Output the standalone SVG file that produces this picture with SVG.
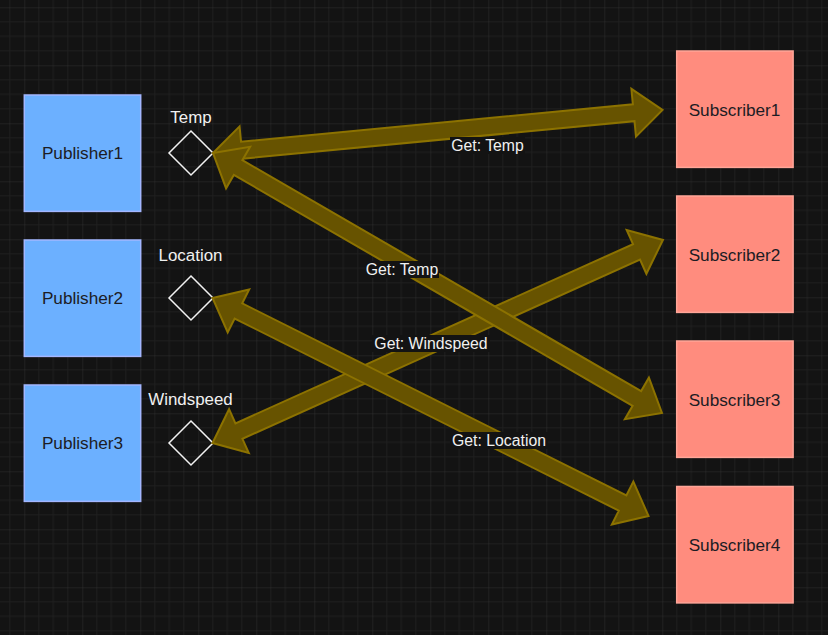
<svg xmlns="http://www.w3.org/2000/svg" width="828" height="635" viewBox="0 0 828 635">
<style>
.pub{fill:#6cb0ff;stroke:#a3b6ff;stroke-width:1.5}
.sub{fill:#ff8c7e;stroke:#ffa598;stroke-width:1.5}
.dia{fill:none;stroke:#f2f2f2;stroke-width:1.5}
.bl{font-family:"Liberation Sans",Arial,sans-serif;font-size:17.2px;fill:#1c1c24;text-anchor:middle;dominant-baseline:central}
.nl{font-family:"Liberation Sans",Arial,sans-serif;font-size:16.9px;fill:#f0f0f0;text-anchor:middle;dominant-baseline:central}
.el{font-family:"Liberation Sans",Arial,sans-serif;font-size:15.8px;fill:#f0f0f0;text-anchor:middle;dominant-baseline:central}
.elbg{fill:#131313}
.arr{fill:#675300;stroke:#8c7200;stroke-width:2;stroke-linejoin:miter;stroke-miterlimit:10}
</style>
<defs>
<pattern id="grid" patternUnits="userSpaceOnUse" x="24.3" y="7.3" width="58" height="58">
<path d="M14.5,0V58M29,0V58M43.5,0V58M0,14.5H58M0,29H58M0,43.5H58" stroke="#1f1f1f" stroke-width="1" fill="none"/>
<path d="M0,0V58M0,0H58" stroke="#303030" stroke-width="1" fill="none"/>
</pattern>
</defs>
<rect width="828" height="635" fill="#131313"/>
<rect width="828" height="635" fill="url(#grid)"/>

<g id="publisher1"><rect class="pub" x="24.3" y="95" width="116.4" height="116.4"/><text class="bl" x="82.5" y="153">Publisher1</text></g>
<g id="publisher2"><rect class="pub" x="24.3" y="240" width="116.4" height="116.4"/><text class="bl" x="82.5" y="298">Publisher2</text></g>
<g id="publisher3"><rect class="pub" x="24.3" y="385" width="116.4" height="116.4"/><text class="bl" x="82.5" y="443">Publisher3</text></g>

<g id="temp"><path class="dia" d="M191,131L213,153L191,175L169,153Z"/><text class="nl" x="191" y="117">Temp</text></g>
<g id="location"><path class="dia" d="M191,276L213,298L191,320L169,298Z"/><text class="nl" x="190.5" y="255">Location</text></g>
<g id="windspeed"><path class="dia" d="M191,421L213,443L191,465L169,443Z"/><text class="nl" x="190.5" y="399.5">Windspeed</text></g>

<g id="subscriber1"><rect class="sub" x="676.7" y="51" width="116.4" height="116.4"/><text class="bl" x="734.5" y="109.5">Subscriber1</text></g>
<g id="subscriber2"><rect class="sub" x="676.7" y="196" width="116.4" height="116.4"/><text class="bl" x="734.5" y="254.5">Subscriber2</text></g>
<g id="subscriber3"><rect class="sub" x="676.7" y="341" width="116.4" height="116.4"/><text class="bl" x="734.5" y="399.5">Subscriber3</text></g>
<g id="subscriber4"><rect class="sub" x="676.7" y="486.5" width="116.4" height="116.4"/><text class="bl" x="734.5" y="545">Subscriber4</text></g>

<g id="connectors">
<path class="arr" transform="translate(213,153) rotate(-5.465)" d="M0,0L29,-24L29,-8.5L422.6,-8.5L422.6,-24L451.6,0L422.6,24L422.6,8.5L29,8.5L29,24Z"/>
<path class="arr" transform="translate(212.5,443) rotate(-24.26)" d="M0,0L29,-24L29,-8.5L465.1,-8.5L465.1,-24L494.1,0L465.1,24L465.1,8.5L29,8.5L29,24Z"/>
<path class="arr" transform="translate(213,153) rotate(30.07)" d="M0,0L29,-24L29,-8.5L489.8,-8.5L489.8,-24L518.8,0L489.8,24L489.8,8.5L29,8.5L29,24Z"/>
<path class="arr" transform="translate(212.5,298) rotate(26.565)" d="M0,0L29,-24L29,-8.5L458.5,-8.5L458.5,-24L487.5,0L458.5,24L458.5,8.5L29,8.5L29,24Z"/>
<g id="edge-labels">
<rect class="elbg" x="450" y="137" width="75" height="17"/><text class="el" x="487.5" y="145.5">Get: Temp</text>
<rect class="elbg" x="365" y="261" width="74" height="17"/><text class="el" x="402" y="269.5">Get: Temp</text>
<rect class="elbg" x="372" y="335" width="118" height="17"/><text class="el" x="431" y="343.5">Get: Windspeed</text>
<rect class="elbg" x="450" y="432" width="98" height="17"/><text class="el" x="499" y="440.5">Get: Location</text>
</g>
</g>
</svg>
